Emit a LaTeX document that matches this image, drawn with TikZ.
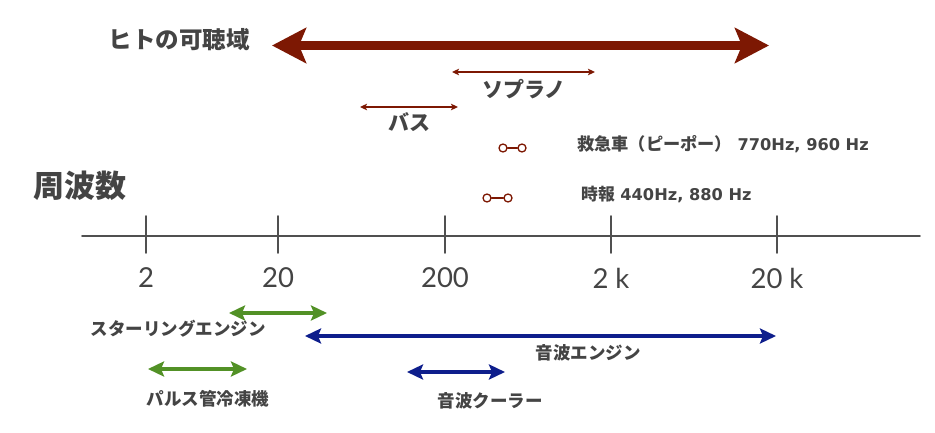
\documentclass[tikz,border=0pt]{standalone}
\usepackage{fontspec}
\usepackage{xcolor}
\usetikzlibrary{arrows.meta}
\newfontfamily\jpfont{Noto Sans CJK JP}
\newfontfamily\numfont{Lato}
\newfontfamily\hzfont{DejaVu Sans}[BoldFont={DejaVu Sans Bold}]
\definecolor{txtgray}{RGB}{68,68,68}
\definecolor{axisgray}{RGB}{80,80,80}
\definecolor{hearred}{RGB}{125,24,3}
\definecolor{stirgreen}{RGB}{82,145,38}
\definecolor{sonicblue}{RGB}{14,30,140}
\newcommand{\hz}[1]{{\hzfont\bfseries\fontsize{16.2}{17}\selectfont #1}}

\begin{document}
\begin{tikzpicture}[line cap=round,line join=round,x=1pt,y=-1pt,
  lbl/.style={inner sep=0pt,text height=0.88em,text depth=0.12em,text=txtgray,font=\jpfont\bfseries},
  tinyrange/.style={hearred,line width=1.4pt,{Stealth[length=7pt,width=6.5pt,inset=1.5pt]}-{Stealth[length=7pt,width=6.5pt,inset=1.5pt]}},
  fatrange/.style={line width=3.3pt,{Stealth[length=16pt,width=15pt,inset=3pt]}-{Stealth[length=16pt,width=15pt,inset=3pt]}},
  dot/.style={circle,draw=hearred,fill=white,line width=1.3pt,inner sep=0pt,minimum size=8pt}]
\useasboundingbox (0,0) rectangle (935,433);

% audible range
\coordinate (hearL) at (272,45.5);
\coordinate (hearR) at (769,45.5);
\draw [hearred,line width=8.5pt,{Stealth[length=34pt,width=35pt,inset=7pt]}-{Stealth[length=34pt,width=35pt,inset=7pt]}] (hearL) -- (hearR);
\node [lbl,font=\jpfont\bfseries\fontsize{23.5}{24}\selectfont] (hear) at (179,45) {ヒトの可聴域};

% voices
\coordinate (sopL) at (452,72);
\coordinate (sopR) at (595,72);
\draw [tinyrange] (sopL) -- (sopR);
\node [lbl,font=\jpfont\bfseries\fontsize{21}{22}\selectfont] (soprano) at (524,94) {ソプラノ};
\coordinate (bassL) at (360,107);
\coordinate (bassR) at (458,107);
\draw [tinyrange] (bassL) -- (bassR);
\node [lbl,font=\jpfont\bfseries\fontsize{21}{22}\selectfont] (bass) at (409,127) {バス};

% two-tone signals
\node [dot] (amb1) at (503,148) {};
\node [dot] (amb2) at (522,148) {};
\draw [hearred,line width=1.3pt] (amb1) -- (amb2);
\node [lbl,anchor=west,font=\jpfont\bfseries\fontsize{17.2}{18}\selectfont] (amb) at (577,147) {救急車（ピーポー）\hz{ 770Hz, 960 Hz}};
\node [dot] (jih1) at (487,198) {};
\node [dot] (jih2) at (508,198) {};
\draw [hearred,line width=1.3pt] (jih1) -- (jih2);
\node [lbl,anchor=west,font=\jpfont\bfseries\fontsize{16.8}{17}\selectfont] (jiho) at (581,197) {時報\hz{ 440Hz, 880 Hz}};

% frequency axis
\node [lbl,font=\jpfont\bfseries\fontsize{31}{32}\selectfont] (freq) at (80,194) {周波数};
\coordinate (axL) at (82,236);
\coordinate (axR) at (920,236);
\draw [axisgray,line width=1.8pt] (axL) -- (axR);
\foreach \xx/\tx in {146/2,278/20,445/200,611/2 k,777/20 k}{
  \draw [axisgray,line width=1.8pt] (\xx,216) -- (\xx,253);
  \node [inner sep=0pt,text=txtgray,font=\numfont\fontsize{27.5}{28}\selectfont] at (\xx,278) {\tx};
}

% machines
\coordinate (stirL) at (229,313);
\coordinate (stirR) at (327,313);
\draw [fatrange,stirgreen] (stirL) -- (stirR);
\node [lbl,font=\jpfont\bfseries\fontsize{17.5}{18}\selectfont] (stir) at (178,332) {スターリングエンジン};
\coordinate (engL) at (305,336);
\coordinate (engR) at (776,336);
\draw [fatrange,sonicblue] (engL) -- (engR);
\node [lbl,font=\jpfont\bfseries\fontsize{17.5}{18}\selectfont] (eng) at (588,356) {音波エンジン};
\coordinate (pulseL) at (148,369);
\coordinate (pulseR) at (247,369);
\draw [fatrange,stirgreen] (pulseL) -- (pulseR);
\node [lbl,font=\jpfont\bfseries\fontsize{17.5}{18}\selectfont] (pulse) at (208,402) {パルス管冷凍機};
\coordinate (coolL) at (407,372);
\coordinate (coolR) at (505,372);
\draw [fatrange,sonicblue] (coolL) -- (coolR);
\node [lbl,font=\jpfont\bfseries\fontsize{17.5}{18}\selectfont] (cool) at (490,404) {音波クーラー};
\end{tikzpicture}
\end{document}
